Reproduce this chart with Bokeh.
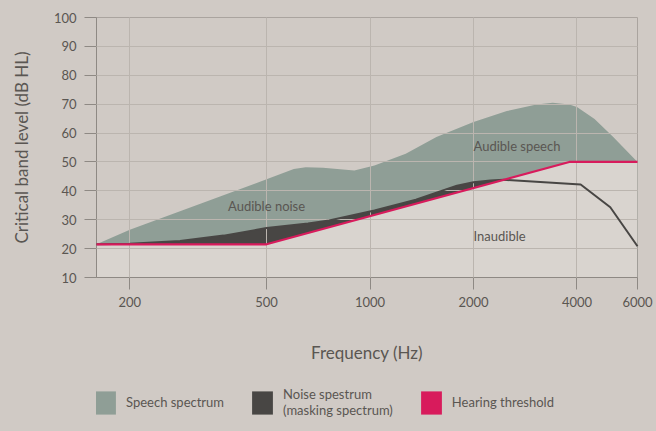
from bokeh.plotting import figure
from bokeh.layouts import column
from bokeh.models import (Range1d, FixedTicker, NumeralTickFormatter, Legend,
                          LegendItem, ColumnDataSource)
from bokeh.embed import file_html
from bokeh.resources import INLINE
from bokeh.core.properties import value

# ---------------- data ----------------
speech_freq = [160, 200, 500, 600, 650, 730, 900, 1030, 1270, 1560, 2000,
               2500, 3050, 3400, 3800, 4000, 4500, 5100, 6000]
speech_level = [21.5, 26.5, 44.0, 47.6, 48.2, 48.0, 47.0, 48.8, 52.8, 58.6, 63.8,
                67.6, 69.9, 70.5, 69.9, 69.0, 64.9, 58.6, 50.0]

noise_freq = [160, 200, 280, 375, 500, 660, 760, 1030, 1360, 1670, 1790, 2000,
              2240, 2450, 4100, 5000, 6000]
noise_level = [21.5, 21.7, 22.6, 24.5, 27.1, 28.7, 29.7, 33.2, 36.9, 40.6, 41.8, 43.0,
               43.6, 43.8, 42.2, 34.3, 20.8]

threshold_freq = [160, 500, 3800, 6000]
threshold_level = [21.5, 21.5, 50.0, 50.0]

x_ticks = [200, 500, 1000, 2000, 4000, 6000]
y_ticks = [10, 20, 30, 40, 50, 60, 70, 80, 90, 100]
X_MIN, X_MAX = 160, 6000
Y_MIN, Y_MAX = 10, 100

region_text = ["Audible noise", "Audible speech", "Inaudible"]
region_freq = [500, 2000, 2000]
region_level = [34.7, 55.5, 24.3]
region_align = ["center", "left", "left"]

legend_labels = ["Speech spectrum", "Noise spestrum\n(masking spectrum)", "Hearing threshold"]

# ---------------- style ----------------
BG = "#d0cac5"
INAUDIBLE = "#d9d4cf"
SPEECH = "#8f9e96"
NOISE = "#484644"
RED = "#d81b5c"
GRID = "#bbb5af"
AXIS = "#8e8984"
TXT = "#5a5652"
FONT = "Lato"

p = figure(frame_width=541, frame_height=260, x_axis_type="log",
           x_range=Range1d(X_MIN, X_MAX), y_range=Range1d(Y_MIN, Y_MAX),
           output_backend="svg", toolbar_location=None,
           min_border_left=96, min_border_right=19, min_border_top=17,
           min_border_bottom=103,
           background_fill_color=BG, border_fill_color=BG)

p.varea(x=speech_freq, y1=Y_MIN, y2=speech_level, fill_color=SPEECH)
p.varea(x=noise_freq, y1=Y_MIN, y2=noise_level, fill_color=NOISE)
p.varea(x=threshold_freq, y1=Y_MIN, y2=threshold_level, fill_color=INAUDIBLE)
nl = p.line(noise_freq, noise_level, line_color=NOISE, line_width=2)
nl.level = "annotation"
tl = p.line(threshold_freq, threshold_level, line_color=RED, line_width=2.2)
tl.level = "overlay"

src = ColumnDataSource(dict(x=region_freq, y=region_level, t=region_text, a=region_align))
tr = p.text(x="x", y="y", text="t", text_align="a", source=src,
            text_baseline="middle", text_font=value(FONT),
            text_font_size="13px", text_color=TXT)
tr.level = "annotation"

# axes
p.xaxis.ticker = FixedTicker(ticks=x_ticks)
p.xaxis.formatter = NumeralTickFormatter(format="0")
p.yaxis.ticker = FixedTicker(ticks=y_ticks)
for ax in (p.xaxis, p.yaxis):
    ax.axis_line_color = AXIS
    ax.major_tick_line_color = AXIS
    ax.minor_tick_line_color = None
    ax.major_tick_out = 12
    ax.major_tick_in = 0
    ax.major_label_text_font = FONT
    ax.major_label_text_font_size = "13px"
    ax.major_label_text_color = TXT
    ax.axis_label_text_font = FONT
    ax.axis_label_text_font_size = "17px"
    ax.axis_label_text_font_style = "normal"
    ax.axis_label_text_color = TXT
p.xaxis.axis_label = "Frequency (Hz)"
p.xaxis.major_label_standoff = 7
p.xaxis.axis_label_standoff = 32
p.yaxis.axis_label = "Critical band level (dB HL)"
p.yaxis.major_label_standoff = 8
p.yaxis.axis_label_standoff = 19

p.grid.grid_line_color = GRID
p.grid.level = "guide"
p.outline_line_color = "#aaa49f"

# ---------------- legend strip ----------------
lg = figure(width=656, height=51, x_axis_type="log",
            x_range=Range1d(X_MIN, X_MAX), y_range=Range1d(Y_MIN, Y_MAX),
            output_backend="svg", toolbar_location=None, min_border=0,
            x_axis_location=None, y_axis_location=None,
            background_fill_color=None, border_fill_color=BG,
            outline_line_color=None)
lg.grid.visible = False
# zero-height areas: used only for the legend swatches
sw_speech = lg.varea(x=speech_freq, y1=speech_level, y2=speech_level, fill_color=SPEECH)
sw_noise = lg.varea(x=noise_freq, y1=noise_level, y2=noise_level, fill_color=NOISE)
sw_thr = lg.varea(x=threshold_freq, y1=threshold_level, y2=threshold_level, fill_color=RED)

legend = Legend(items=[LegendItem(label=legend_labels[0], renderers=[sw_speech]),
                       LegendItem(label=legend_labels[1], renderers=[sw_noise]),
                       LegendItem(label=legend_labels[2], renderers=[sw_thr])],
                orientation="horizontal", location=(-4, 13),
                margin=0, padding=0, spacing=25,
                glyph_width=26, glyph_height=29, label_standoff=8,
                label_text_font=FONT, label_text_font_size="13px",
                label_text_color=TXT, label_text_baseline="middle",
                border_line_color=None, background_fill_alpha=0)
lg.add_layout(legend)

layout = column(p, lg, spacing=0, styles={"background-color": BG})
open("out.html", "w").write(file_html(layout, INLINE))
